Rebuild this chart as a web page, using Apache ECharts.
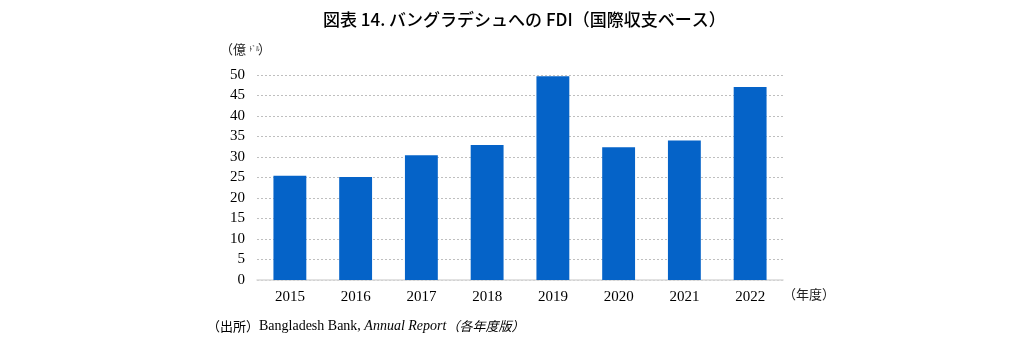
<!DOCTYPE html>
<html>
<head>
<meta charset="utf-8">
<script src="https://cdn.jsdelivr.net/npm/echarts@6/dist/echarts.min.js"></script>
<style>
  html, body { margin: 0; padding: 0; background: #fff; }
  #chart { width: 1024px; height: 350px; }
</style>
</head>
<body>
<div id="chart"></div>
<script>
// FDI into Bangladesh, balance of payments basis (100 million USD)
const years = ['2015', '2016', '2017', '2018', '2019', '2020', '2021', '2022'];
const fdi = [25.4, 25.1, 30.4, 32.9, 49.7, 32.4, 34.0, 47.1];
const yTicks = [0, 5, 10, 15, 20, 25, 30, 35, 40, 45, 50];

const serif = '"Liberation Serif", "Times New Roman", serif';
const jp = '"Noto Sans CJK JP", sans-serif';

let myChart = echarts.init(document.getElementById('chart'));
myChart.setOption({
    animation: false,
    title: {
        text: '図表 14. バングラデシュへの FDI（国際収支ベース）',
        left: 318,
        top: 6,
        textStyle: { fontFamily: jp, fontSize: 17, fontWeight: 500, color: '#000' }
    },
    grid: { left: 257, right: 241, top: 75, bottom: 70 },
    xAxis: {
        type: 'category',
        data: years,
        axisTick: { show: false },
        axisLine: { lineStyle: { color: '#d9d9d9', width: 1.5 } },
        axisLabel: { fontFamily: serif, fontSize: 15, color: '#000', margin: 10 }
    },
    yAxis: {
        type: 'value',
        min: yTicks[0],
        max: yTicks[yTicks.length - 1],
        interval: 5,
        axisLine: { show: false },
        axisTick: { show: false },
        axisLabel: { fontFamily: serif, fontSize: 15, color: '#000', margin: 12 },
        splitLine: { lineStyle: { color: '#bfbfbf', type: [2, 2], width: 1 } }
    },
    series: [{
        type: 'bar',
        data: fdi,
        barWidth: '50%',
        itemStyle: { color: '#0563c8' }
    }],
    graphic: [
        {
            type: 'text', left: 220, top: 43,
            style: { text: '（億', fontFamily: jp, fontSize: 13, fill: '#222' }
        },
        {
            type: 'text', left: 249, top: 45,
            style: { text: 'ﾄﾞﾙ', fontFamily: jp, fontSize: 7, fill: '#222' }
        },
        {
            type: 'text', left: 258, top: 43,
            style: { text: '）', fontFamily: jp, fontSize: 13, fill: '#222' }
        },
        {
            type: 'text', left: 783, top: 288,
            style: { text: '（年度）', fontFamily: jp, fontSize: 13, fill: '#222' }
        },
        {
            type: 'text', left: 207, top: 319,
            style: {
                rich: {
                    a: { fontFamily: jp, fontSize: 13, fill: '#000' },
                    b: { fontFamily: serif, fontSize: 14, fill: '#000' },
                    c: { fontFamily: serif, fontSize: 14, fontStyle: 'italic', fill: '#000' },
                    d: { fontFamily: jp, fontSize: 13, fontStyle: 'italic', fill: '#000' }
                },
                text: '{a|（出所）}{b|Bangladesh Bank, }{c|Annual Report}{d|（各年度版）}'
            }
        }
    ]
});
</script>
</body>
</html>
